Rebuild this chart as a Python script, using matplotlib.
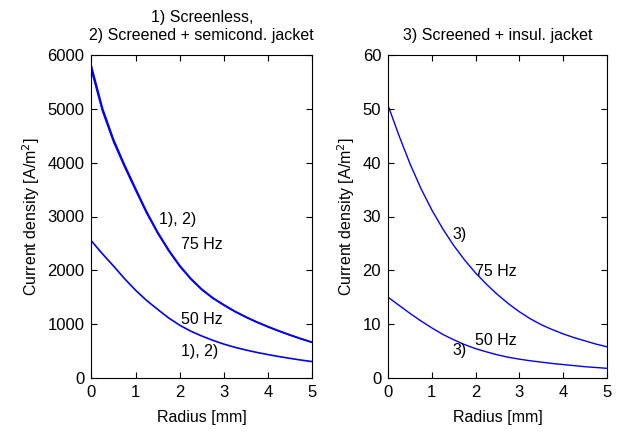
import numpy as np
import matplotlib
matplotlib.use("Agg")
import matplotlib.pyplot as plt

plt.rcParams['font.family'] = ['Liberation Sans', 'DejaVu Sans']
plt.rcParams['font.size'] = 11.5

# radius [mm]
radius = [0, 0.25, 0.5, 0.75, 1, 1.25, 1.5, 1.75, 2, 2.25, 2.5,
          2.75, 3, 3.25, 3.5, 3.75, 4, 4.25, 4.5, 4.75, 5]

# left panel: 1) screenless, 2) screened + semicond. jacket  [A/m^2]
j75_case1 = [5790, 5010, 4430, 3960, 3520, 3090, 2710, 2380, 2090, 1850, 1650,
             1490, 1360, 1240, 1135, 1040, 955, 875, 800, 730, 665]
j75_case2 = [5720, 4960, 4390, 3925, 3490, 3065, 2690, 2362, 2075, 1838, 1640,
             1481, 1352, 1233, 1129, 1035, 950, 871, 796, 727, 662]
j50_case12 = [2545, 2305, 2080, 1845, 1630, 1440, 1275, 1115, 980, 870, 780,
              700, 630, 570, 520, 475, 435, 398, 365, 333, 305]

# right panel: 3) screened + insul. jacket  [A/m^2]
j75_case3 = [50.6, 45.0, 39.8, 35.2, 31.2, 27.7, 24.6, 21.9, 19.5, 17.4, 15.5,
             13.8, 12.3, 11.0, 9.9, 9.0, 8.2, 7.5, 6.9, 6.3, 5.8]
j50_case3 = [15.0, 13.5, 12.0, 10.6, 9.3, 8.1, 7.1, 6.2, 5.45, 4.85, 4.3,
             3.85, 3.5, 3.2, 2.95, 2.7, 2.5, 2.3, 2.1, 1.95, 1.8]

fig = plt.figure(figsize=(6.18, 4.33), dpi=100)
ax1 = fig.add_axes([0.148, 0.127, 0.357, 0.746])
ax2 = fig.add_axes([0.628, 0.127, 0.354, 0.746])

blue = (0, 0, 1)
ax1.plot(radius, j75_case1, color=blue, lw=1.2)
ax1.plot(radius, j75_case2, color=blue, lw=1.2)
ax1.plot(radius, j50_case12, color=blue, lw=1.2)
ax2.plot(radius, j75_case3, color=blue, lw=1.0)
ax2.plot(radius, j50_case3, color=blue, lw=1.0)

ax1.set_ylim(0, 6000)
ax2.set_ylim(0, 60)
ax1.set_yticks(range(0, 6001, 1000))
ax2.set_yticks(range(0, 61, 10))

for ax in (ax1, ax2):
    ax.set_xlim(0, 5)
    ax.set_xticks(range(0, 6))
    ax.set_xlabel('Radius [mm]', labelpad=7)
    ax.set_ylabel('Current density [A/m$^2$]', labelpad=4)
    ax.tick_params(direction='in', top=True, right=True, length=4, width=0.8,
                   pad=5, labelsize=12)
    for s in ax.spines.values():
        s.set_linewidth(0.8)

ax1.set_title('1) Screenless,\n2) Screened + semicond. jacket', fontsize=11.5, pad=11)
ax2.set_title('3) Screened + insul. jacket', fontsize=11.5, pad=11)

ax1.text(1.54, 2950, '1), 2)', va='center')
ax1.text(2.02, 2480, '75 Hz', va='center')
ax1.text(2.02, 1090, '50 Hz', va='center')
ax1.text(2.02, 490, '1), 2)', va='center')

ax2.text(1.48, 26.6, '3)', va='center')
ax2.text(1.99, 19.8, '75 Hz', va='center')
ax2.text(1.99, 6.9, '50 Hz', va='center')
ax2.text(1.48, 5.1, '3)', va='center')

fig.savefig('out.png', dpi=100)
